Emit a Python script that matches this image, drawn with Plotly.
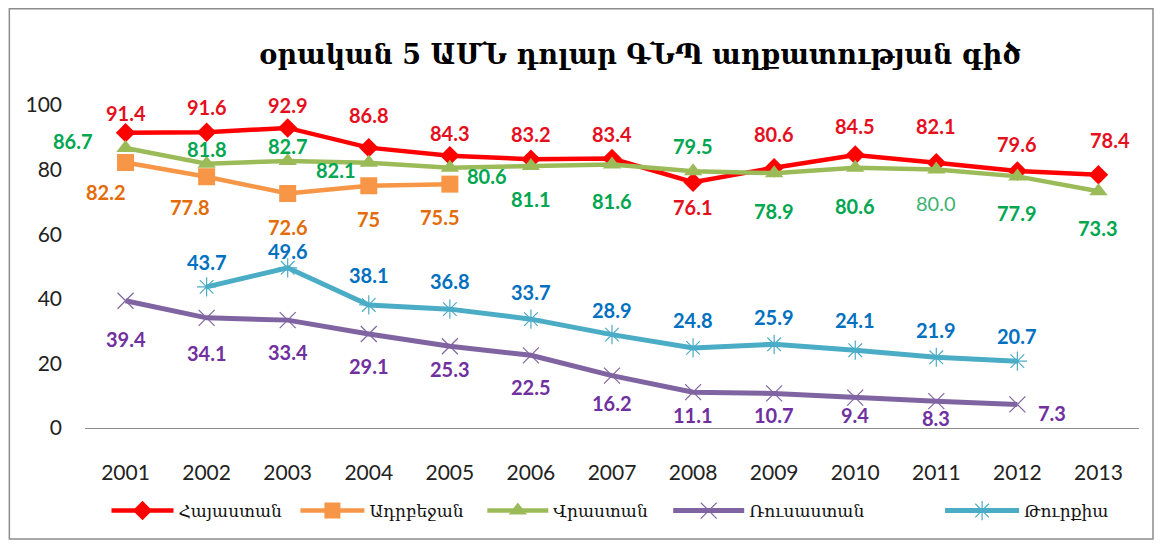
import plotly.graph_objects as go

# ---------------- data ----------------
years = [2001, 2002, 2003, 2004, 2005, 2006, 2007,
         2008, 2009, 2010, 2011, 2012, 2013]
armenia = [91.4, 91.6, 92.9, 86.8, 84.3, 83.2, 83.4, 76.1, 80.6, 84.5, 82.1, 79.6, 78.4]
azerbaijan = [82.2, 77.8, 72.6, 75, 75.5, None, None, None, None, None, None, None, None]
georgia = [86.7, 81.8, 82.7, 82.1, 80.6, 81.1, 81.6, 79.5, 78.9, 80.6, 80.0, 77.9, 73.3]
russia = [39.4, 34.1, 33.4, 29.1, 25.3, 22.5, 16.2, 11.1, 10.7, 9.4, 8.3, 7.3, None]
turkey = [None, 43.7, 49.6, 38.1, 36.8, 33.7, 28.9, 24.8, 25.9, 24.1, 21.9, 20.7, None]

names = ["Հայաստան", "Ադրբեջան", "Վրաստան", "Ռուսաստան", "Թուրքիա"]
title_text = "օրական 5 ԱՄՆ դոլար ԳՆՊ աղքատության գիծ"
y_ticks = [0, 20, 40, 60, 80, 100]

# ---------------- styles ----------------
line_colors = ["#FF0000", "#F79646", "#9BBB59", "#8064A2", "#4BACC6"]
label_colors = ["#E5101E", "#E36C09", "#00A650", "#7030A0", "#0070C0"]
symbols = ["diamond", "square", "triangle-up", "x-thin-open", "asterisk-open"]
marker_sizes = [15, 17, 16, 16, 16]
line_widths = [4.5, 4.5, 4.5, 5, 5]

# label offsets (dx, dy in px, dy positive = up)
label_dx = [
    [0] * 12 + [12],
    [-20, -17, 0, 0, -10] + [0] * 8,
    [-53, 0, 0, -33, 37] + [0] * 8,
    [0] * 11 + [35, 0],
    [0] * 13,
]
label_dy = [
    [20, 25, 23, 33, 23, 25, 25, -25, 34, 29, 37, 27, 35],
    [-30, -30, -33, -33, -33] + [0] * 8,
    [7, 15, 15, -7, -8, -33, -37, 25, -38, -38, -33, -37, -37],
    [-38, -35, -32, -32, -23, -32, -27, -23, -22, -17, -17, -9, 0],
    [0, 25, 17, 30, 28, 27, 25, 28, 27, 30, 27, 25, 0],
]

series = [armenia, azerbaijan, georgia, russia, turkey]

# page offset of the figure (browser body margin)
OFF = 8
W, H = 1154, 536
ML, MR, MT, MB = 76.5, 23, 97, 116
PW, PH = W - ML - MR, H - MT - MB


def px_to_paper_x(px):
    return (px - OFF - ML) / PW


def px_to_paper_y(py):
    return (H - MB - (py - OFF)) / PH


fig = go.Figure()
annotations = []
legend_names = ["legend", "legend2", "legend3", "legend4", "legend5"]
for i, vals in enumerate(series):
    fig.add_trace(go.Scatter(
        x=years, y=vals, name=names[i], mode="lines+markers",
        line=dict(color=line_colors[i], width=line_widths[i]),
        marker=dict(symbol=symbols[i], size=marker_sizes[i], color=line_colors[i],
                    line=dict(color=line_colors[i], width=1.2 if i >= 3 else 0)),
        legend=legend_names[i],
        connectgaps=False,
        hoverinfo="x+y",
    ))
    for j, v in enumerate(vals):
        if v is None:
            continue
        thin = (i == 2 and j == 10)
        annotations.append(dict(
            x=years[j], y=v, xref="x", yref="y", text=f"{v}", showarrow=False,
            xshift=label_dx[i][j], yshift=label_dy[i][j],
            font=dict(family="Lato", size=20, color="#3CB371" if thin else label_colors[i],
                      weight="normal" if thin else "bold"),
        ))

# frame around the chart
shapes = [dict(type="rect", xref="paper", yref="paper",
               x0=px_to_paper_x(8.8), x1=px_to_paper_x(1153),
               y0=px_to_paper_y(539), y1=px_to_paper_y(8.8),
               line=dict(color="#8C8C8C", width=1.5), fillcolor="rgba(0,0,0,0)", layer="below")]

legend_x_px = [106, 295, 482, 668, 940]
legend_itemw = [62, 64, 61, 71, 74]
layout_legends = {}
for k, ln in enumerate(legend_names):
    layout_legends[ln] = dict(orientation="h", yanchor="middle", y=px_to_paper_y(511), xanchor="left",
                              x=px_to_paper_x(legend_x_px[k]),
                              bgcolor="rgba(0,0,0,0)", borderwidth=0,
                              font=dict(family="DejaVu Serif", size=17, color="#111111"),
                              itemwidth=legend_itemw[k])

fig.update_layout(
    width=W, height=H,
    margin=dict(l=ML, r=MR, t=MT, b=MB),
    paper_bgcolor="white", plot_bgcolor="white",
    title=dict(text=title_text, x=(640 - OFF) / W, xanchor="center", y=1 - (55 - OFF) / H,
               yanchor="middle",
               font=dict(family="DejaVu Serif", size=27, color="#000000", weight="bold")),
    showlegend=True,
    annotations=annotations,
    shapes=shapes,
    **layout_legends,
)
fig.update_xaxes(range=[years[0] - 0.5, years[-1] + 0.5], tickvals=years, showgrid=False,
                 showline=True, linecolor="#8C8C8C", linewidth=1.2,
                 ticks="", ticklabelstandoff=26,
                 tickfont=dict(family="Lato", size=21, color="#222222"), zeroline=False)
fig.update_yaxes(range=[0, 100], tickvals=y_ticks, showgrid=False, showline=False, zeroline=False,
                 ticks="", ticklabelstandoff=22,
                 tickfont=dict(family="Lato", size=21, color="#222222"))

fig.write_html("out.html")
